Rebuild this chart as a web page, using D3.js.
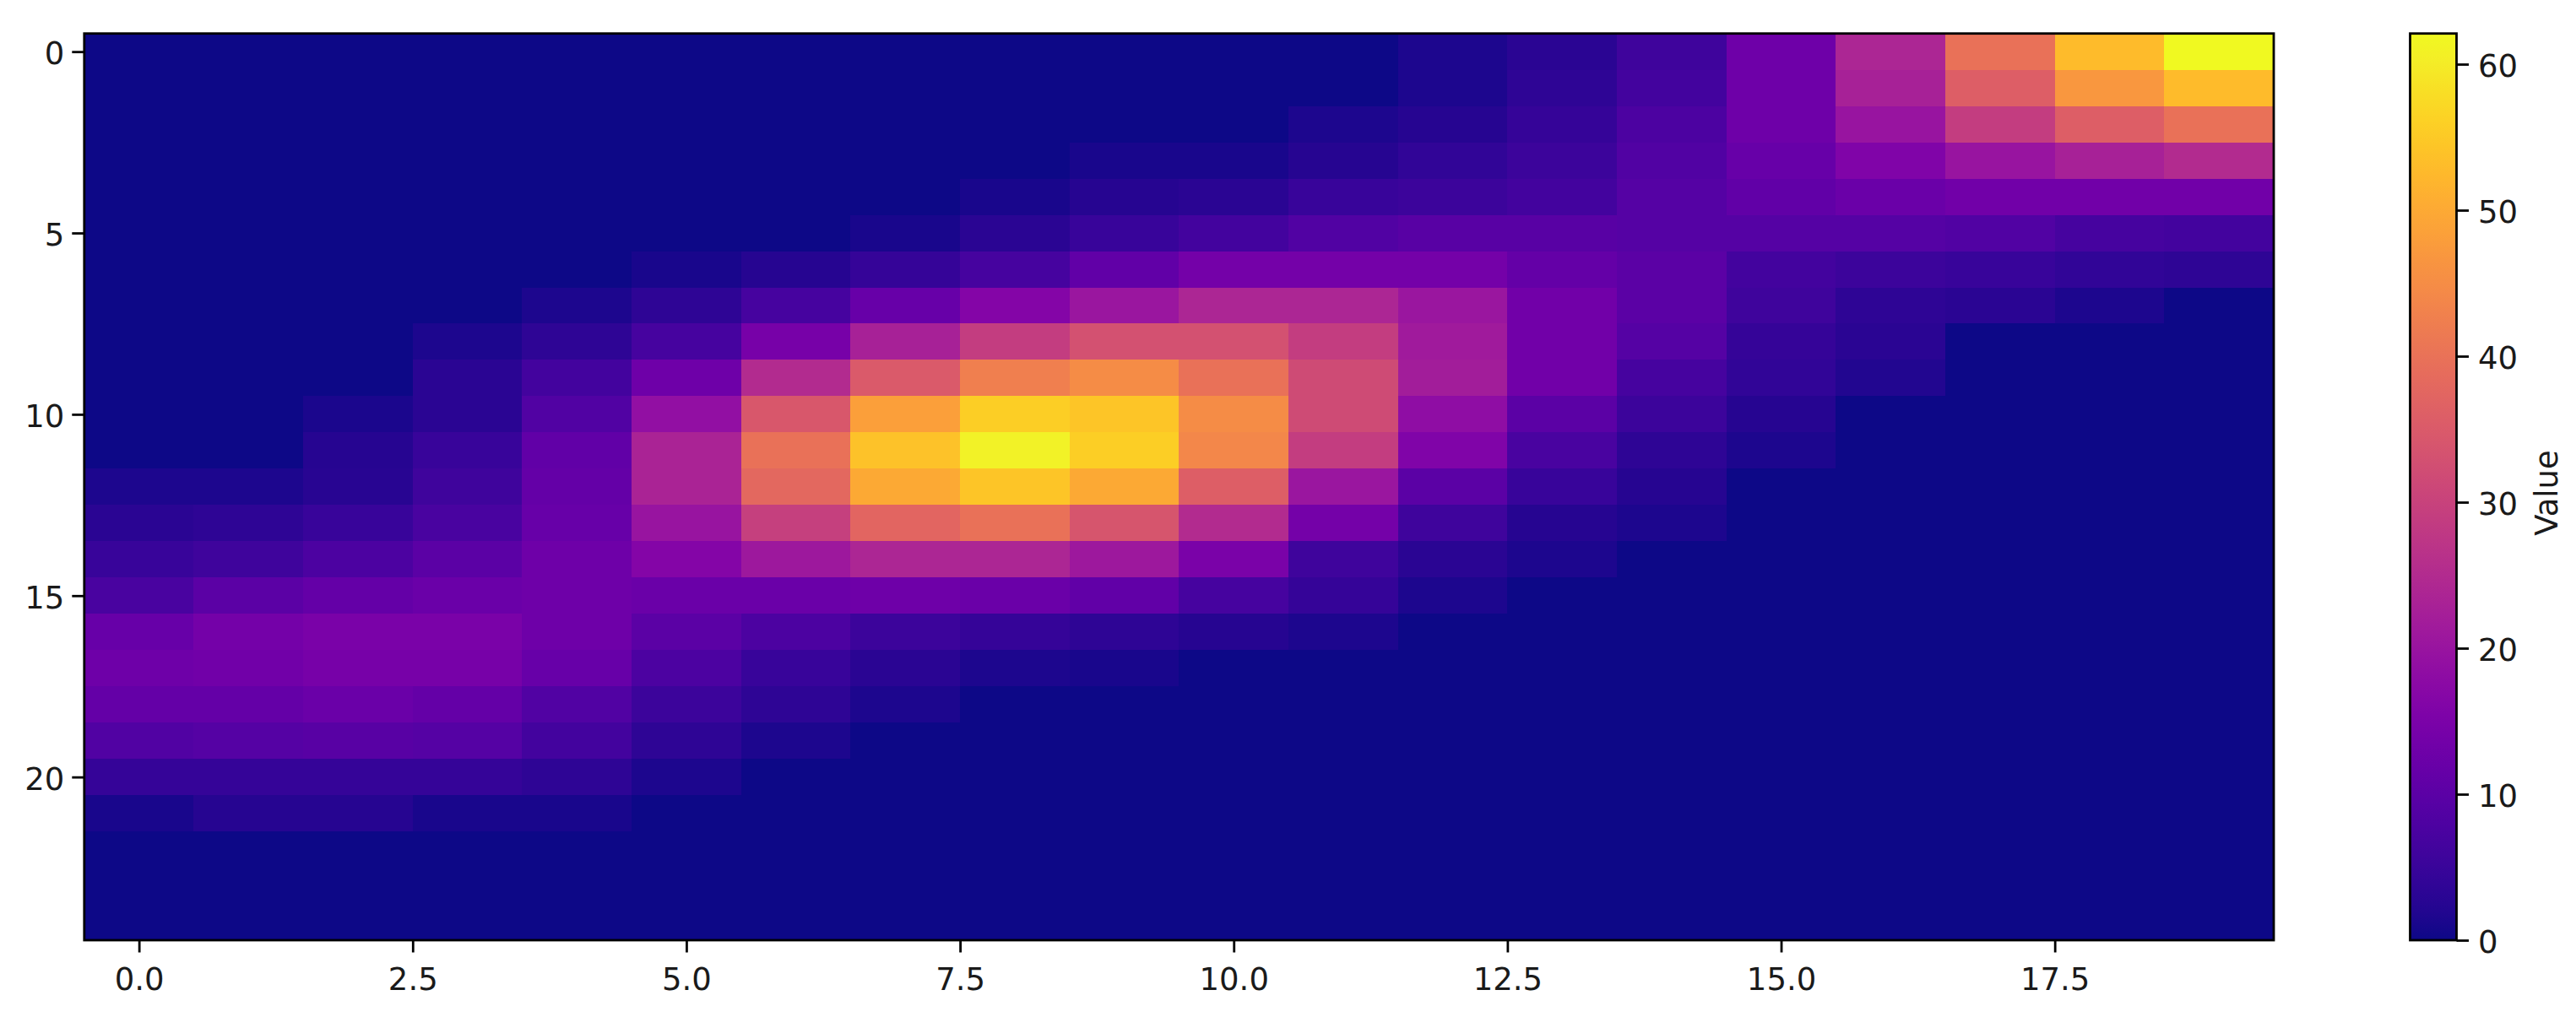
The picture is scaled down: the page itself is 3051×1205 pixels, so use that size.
<!DOCTYPE html>
<html><head><meta charset="utf-8">
<script src="https://cdn.jsdelivr.net/npm/d3@7"></script>
<style>html,body{margin:0;padding:0;background:#fff;overflow:hidden}
text{font-family:"DejaVu Sans",sans-serif}</style></head>
<body><svg id="c" width="3051" height="1205"></svg>
<script>
const row00=[0,0,0,0,0,0,0,0,0,0,0,0,1.5,3,6,13,24,40,53,62.1];
const row01=[0,0,0,0,0,0,0,0,0,0,0,0,1.5,3.5,6.5,13,23,36,47,53];
const row02=[0,0,0,0,0,0,0,0,0,0,0,1.5,2.5,4.5,8,13,20,29,36,40];
const row03=[0,0,0,0,0,0,0,0,0,1,1,2.5,4,5.5,8.5,12,16,20,23,25];
const row04=[0,0,0,0,0,0,0,0,1,2.5,3,5,5.5,6.5,9,11,12.5,13.5,13.5,13.5];
const row05=[0,0,0,0,0,0,0,1,3,5,6.5,8.5,9.5,9.5,9,9,9,8.5,7,6.5];
const row06=[0,0,0,0,0,1,2.5,4.5,7,11,14,14,14,11.5,10,6.5,5.5,5,4,3.5];
const row07=[0,0,0,0,1.5,3.5,7,12,16.5,20.5,24,24,20.5,13.5,10,6,3.5,3,1.5,0];
const row08=[0,0,0,1.5,3.5,7,14.5,23,29,33,33,29,21.5,13.5,9,4.5,3,0,0,0];
const row09=[0,0,0,3,6.5,13,25,35,42.5,45,40,32,22,13.5,7,4,2,0,0,0];
const row10=[0,0,1.3,3,8.5,19,34.5,48.5,56,54.5,45,32,18.5,10,5.5,2.5,0,0,0,0];
const row11=[0,0,2.5,5,11,23.5,40,54,61,56,44,29,16,7.5,3.5,1.5,0,0,0,0];
const row12=[1.5,1.5,2.8,6,11.5,23.5,38,50,54.5,50,36,20.5,10,5,2.5,0,0,0,0,0];
const row13=[3,3.5,5,7.5,12,20,29.5,37.5,40,34,25,14,6,2.5,1.5,0,0,0,0,0];
const row14=[5,6,8,10,13,16.5,21,24,24,21,15,6,3,1.5,0,0,0,0,0,0];
const row15=[7.5,10,11.5,12.5,13,12.5,12.5,13,12.5,11,7,4.5,1.5,0,0,0,0,0,0,0];
const row16=[12,14,15,15,13,10,8,5.5,4.5,3.5,2.5,1.5,0,0,0,0,0,0,0,0];
const row17=[13,13.5,14.5,14.5,12,8,5,3,1.5,1,0,0,0,0,0,0,0,0,0,0];
const row18=[11.5,11.5,12.5,11.5,8.5,5.5,3.5,1.5,0,0,0,0,0,0,0,0,0,0,0,0];
const row19=[8.5,9,9.5,9,6.5,3.5,1.5,0,0,0,0,0,0,0,0,0,0,0,0,0];
const row20=[4.5,4.5,4.5,4.5,3.5,1.5,0,0,0,0,0,0,0,0,0,0,0,0,0,0];
const row21=[1,2.5,2.5,1.2,1.2,0,0,0,0,0,0,0,0,0,0,0,0,0,0,0];
const row22=[0,0,0,0,0,0,0,0,0,0,0,0,0,0,0,0,0,0,0,0];
const row23=[0,0,0,0,0,0,0,0,0,0,0,0,0,0,0,0,0,0,0,0];
const row24=[0,0,0,0,0,0,0,0,0,0,0,0,0,0,0,0,0,0,0,0];
const matrix=[row00,row01,row02,row03,row04,row05,row06,row07,row08,row09,row10,row11,row12,
  row13,row14,row15,row16,row17,row18,row19,row20,row21,row22,row23,row24];
const xTicks=[0,2.5,5,7.5,10,12.5,15,17.5];
const yTicks=[0,5,10,15,20];
const cbTicks=[0,10,20,30,40,50,60];
const valueMax=62.1;
const cbLabel="Value";

const svg=d3.select("#c");
const L=99.8,R=2693,T=39.7,B=1114,CL=2854.5,CR=2909.5;
const FS=37,TL=14.5,SW=2.8,INK="#1a1a1a";
const x=d3.scaleLinear().domain([-0.5,19.5]).range([L,R]);
const y=d3.scaleLinear().domain([-0.5,24.5]).range([T,B]);
const v=d3.scaleLinear().domain([0,valueMax]).range([B,T]);
const color=d3.scaleSequential(d3.interpolatePlasma).domain([0,valueMax]);

const cells=matrix.flatMap((r,i)=>r.map((val,j)=>({i,j,val})));
svg.append("g").selectAll("rect").data(cells).join("rect")
 .attr("x",d=>x(d.j-0.5)).attr("y",d=>y(d.i-0.5))
 .attr("width",d=>x(d.j+0.5)-x(d.j-0.5)+0.5).attr("height",d=>y(d.i+0.5)-y(d.i-0.5)+0.5)
 .attr("shape-rendering","crispEdges")
 .attr("fill",d=>color(d.val));

function style(g,dy){
 g.select(".domain").remove();
 g.selectAll(".tick line").attr("stroke","#000").attr("stroke-width",SW);
 g.selectAll(".tick text").attr("font-size",FS).attr("font-family","DejaVu Sans").attr("fill",INK);
 if(dy) g.selectAll(".tick text").attr("dy",dy);
}
svg.append("g").attr("transform",`translate(0,${B})`)
 .call(d3.axisBottom(x).tickValues(xTicks).tickFormat(d3.format(".1f")).tickSize(TL).tickPadding(18.7)).call(style);
svg.append("g").attr("transform",`translate(${L},0)`)
 .call(d3.axisLeft(y).tickValues(yTicks).tickFormat(d3.format("d")).tickSize(TL).tickPadding(9)).call(style,"0.40em");
svg.append("rect").attr("x",L).attr("y",T).attr("width",R-L).attr("height",B-T)
 .attr("fill","none").attr("stroke","#000").attr("stroke-width",SW);

const defs=svg.append("defs");
const grad=defs.append("linearGradient").attr("id","cb").attr("x1",0).attr("x2",0).attr("y1",1).attr("y2",0);
grad.selectAll("stop").data(d3.range(0,1.0001,1/32)).join("stop")
 .attr("offset",d=>d).attr("stop-color",d=>d3.interpolatePlasma(d));
svg.append("rect").attr("x",CL).attr("y",T).attr("width",CR-CL).attr("height",B-T).attr("fill","url(#cb)");
svg.append("g").attr("transform",`translate(${CR},0)`)
 .call(d3.axisRight(v).tickValues(cbTicks).tickFormat(d3.format("d")).tickSize(TL).tickPadding(11)).call(style,"0.39em");
svg.append("rect").attr("x",CL).attr("y",T).attr("width",CR-CL).attr("height",B-T)
 .attr("fill","none").attr("stroke","#000").attr("stroke-width",SW);
svg.append("text").attr("transform",`translate(3029,584) rotate(-90)`)
 .attr("text-anchor","middle").attr("font-size",FS).attr("fill",INK).text(cbLabel);
</script></body></html>
